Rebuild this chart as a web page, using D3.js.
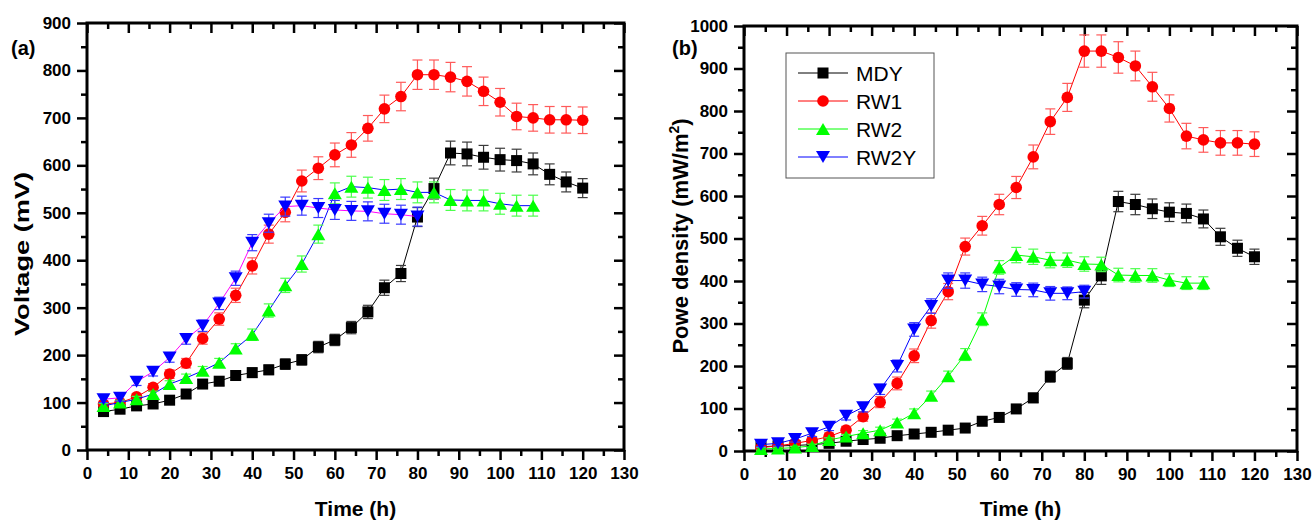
<!DOCTYPE html>
<html>
<head>
<meta charset="utf-8">
<script src="https://cdn.jsdelivr.net/npm/d3@7"></script>
<style>
	body { margin: 0; background: #ffffff; }
	svg text { font-family: "Liberation Sans", Arial, sans-serif; fill: #000; }
</style>
</head>
<body>
<div id="chartDiv"></div>
<script>

// time points (h)
var times = [4, 8, 12, 16, 20, 24, 28, 32, 36, 40, 44, 48, 52, 56, 60, 64, 68, 72, 76, 80, 84, 88, 92, 96, 100, 104, 108, 112, 116, 120];
var timesRW2 = [4, 8, 12, 16, 20, 24, 28, 32, 36, 40, 44, 48, 52, 56, 60, 64, 68, 72, 76, 80, 84, 88, 92, 96, 100, 104, 108];
var timesRW2Y = [4, 8, 12, 16, 20, 24, 28, 32, 36, 40, 44, 48, 52, 56, 60, 64, 68, 72, 76, 80];

var seriesNames = ["MDY", "RW1", "RW2", "RW2Y"];

// (a) voltage, mV
var voltMDY = [81, 86, 93, 97, 105, 118, 139, 145, 157, 163, 169, 181, 190, 217, 232, 258, 291, 342, 372, 491, 551, 626, 624, 617, 612, 610, 603, 581, 565, 552];
var voltRW1 = [97, 100, 112, 132, 160, 183, 235, 276, 326, 388, 455, 501, 567, 594, 622, 643, 678, 719, 745, 791, 791, 786, 777, 756, 733, 703, 700, 696, 696, 695];
var voltRW2 = [93, 100, 107, 118, 139, 152, 167, 184, 214, 243, 294, 347, 392, 455, 541, 555, 553, 548, 550, 543, 543, 527, 526, 526, 519, 515, 515];
var voltRW2Y = [107, 110, 144, 165, 195, 234, 262, 309, 362, 437, 478, 513, 515, 510, 506, 504, 503, 498, 496, 492];

var voltErrMDY = [5, 5, 6, 6, 7, 8, 9, 9, 10, 10, 10, 11, 11, 12, 12, 13, 14, 16, 17, 20, 22, 25, 25, 25, 24, 24, 23, 22, 21, 20];
var voltErrRW1 = [6, 6, 7, 8, 9, 10, 12, 13, 15, 17, 19, 20, 23, 24, 25, 26, 27, 29, 30, 31, 31, 31, 31, 30, 29, 28, 28, 28, 28, 28];
var voltErrRW2 = [5, 5, 6, 6, 7, 8, 9, 9, 10, 12, 14, 15, 17, 19, 22, 22, 22, 22, 22, 22, 22, 22, 22, 22, 22, 22, 22];
var voltErrRW2Y = [7, 7, 8, 9, 10, 11, 12, 13, 15, 17, 19, 20, 20, 20, 20, 20, 20, 20, 20, 20];

// (b) power density, mW/m2
var powMDY = [10, 12, 13, 15, 18, 23, 27, 30, 36, 40, 44, 49, 54, 70, 79, 99, 125, 175, 206, 355, 412, 587, 580, 570, 562, 559, 546, 504, 477, 457];
var powRW1 = [8, 12, 18, 25, 34, 49, 81, 115, 159, 224, 307, 375, 481, 530, 580, 620, 692, 775, 832, 941, 941, 926, 906, 857, 806, 741, 732, 725, 725, 722];
var powRW2 = [5, 6, 8, 12, 26, 34, 42, 49, 67, 89, 130, 176, 227, 310, 432, 461, 457, 449, 449, 440, 439, 414, 413, 413, 402, 395, 395];
var powRW2Y = [15, 18, 28, 42, 57, 83, 103, 145, 200, 286, 341, 401, 401, 392, 387, 380, 379, 371, 371, 375];

var powErrMDY = [3, 3, 3, 3, 4, 4, 5, 5, 5, 6, 6, 6, 7, 8, 9, 10, 11, 13, 14, 18, 20, 24, 24, 23, 22, 22, 21, 20, 19, 18];
var powErrRW1 = [4, 5, 6, 7, 8, 9, 11, 13, 15, 16, 18, 19, 20, 22, 24, 26, 28, 30, 33, 38, 38, 37, 35, 34, 32, 30, 29, 29, 29, 29];
var powErrRW2 = [3, 3, 3, 4, 5, 5, 6, 7, 8, 10, 11, 12, 14, 15, 16, 18, 18, 18, 17, 17, 17, 16, 16, 16, 15, 15, 15];
var powErrRW2Y = [5, 6, 7, 8, 9, 10, 11, 12, 14, 16, 17, 18, 18, 17, 17, 16, 16, 16, 15, 15];

;(function() {

	var width = 1312;
	var height = 524;

	var markerFill = { MDY: "#000000", RW1: "#ff0000", RW2: "#00ff00", RW2Y: "#0000ff" };
	var errColor = { MDY: "#3a3a3a", RW1: "#ff5a5a", RW2: "#4cff4c", RW2Y: "#3a3aff" };
	var shapes = { MDY: "square", RW1: "circle", RW2: "up", RW2Y: "down" };

	var svg;

	init();

	function init() {
		svg = d3.select("#chartDiv").append("svg")
			.attr("width", width)
			.attr("height", height);

		drawPanel({
			left: 87, right: 624, top: 23, bottom: 450,
			yMax: 900,
			label: "(a)", labelX: 11,
			yTitle: "Voltage (mV)", yTitleX: 29, yTitleY: 254, yTitleLen: 164, yTitleSize: 21,
			lineColor: { MDY: "#000000", RW1: "#ff0000", RW2: "#0000ff", RW2Y: "#ff00ff" },
			series: [
				{ name: "MDY", x: times, y: voltMDY, e: voltErrMDY },
				{ name: "RW1", x: times, y: voltRW1, e: voltErrRW1 },
				{ name: "RW2", x: timesRW2, y: voltRW2, e: voltErrRW2 },
				{ name: "RW2Y", x: timesRW2Y, y: voltRW2Y, e: voltErrRW2Y }
			]
		});

		drawPanel({
			left: 744, right: 1297, top: 26, bottom: 451,
			yMax: 1000,
			label: "(b)", labelX: 672,
			yTitle: "Powe density (mW/m", yTitleX: 688, yTitleY: 236, yTitleSize: 22,
			superscript: true,
			legend: true,
			lineColor: { MDY: "#000000", RW1: "#ff0000", RW2: "#00ff00", RW2Y: "#0000ff" },
			series: [
				{ name: "MDY", x: times, y: powMDY, e: powErrMDY },
				{ name: "RW1", x: times, y: powRW1, e: powErrRW1 },
				{ name: "RW2", x: timesRW2, y: powRW2, e: powErrRW2 },
				{ name: "RW2Y", x: timesRW2Y, y: powRW2Y, e: powErrRW2Y }
			]
		});
	}

	function marker(sel, shape, fill) {
		var s = 11;
		var h = s / 2;
		if (shape == "square") {
			sel.append("rect").attr("x", -h).attr("y", -h).attr("width", s).attr("height", s).attr("fill", fill);
		} else if (shape == "circle") {
			sel.append("circle").attr("r", 5.8).attr("fill", fill);
		} else if (shape == "up") {
			sel.append("path").attr("d", "M0," + (-h - 0.5) + "L" + (h + 1.5) + "," + (h + 0.5) + "L" + (-h - 1.5) + "," + (h + 0.5) + "Z").attr("fill", fill);
		} else {
			sel.append("path").attr("d", "M0," + (h + 0.5) + "L" + (h + 1.5) + "," + (-h - 0.5) + "L" + (-h - 1.5) + "," + (-h - 0.5) + "Z").attr("fill", fill);
		}
	}

	function styleAxis(g, labels) {
		g.select(".domain").remove();
		g.selectAll("line").attr("stroke", "#000").attr("stroke-width", 2.5);
		if (labels) {
			g.selectAll("text")
				.style("font-size", "17px")
				.style("font-weight", "bold")
				.attr("fill", "#000");
		}
	}

	function drawPanel(p) {
		var g = svg.append("g");

		var xScale = d3.scaleLinear().domain([0, 130]).range([p.left, p.right]);
		var yScale = d3.scaleLinear().domain([0, p.yMax]).range([p.bottom, p.top]);

		var xMajor = d3.range(0, 131, 10);
		var xMinor = d3.range(5, 130, 10);
		var yMajor = d3.range(0, p.yMax + 1, 100);
		var yMinor = d3.range(50, p.yMax, 100);

		// bottom axis (outward ticks)
		g.append("g").attr("transform", "translate(0," + p.bottom + ")")
			.call(d3.axisBottom(xScale).tickValues(xMinor).tickSize(6).tickFormat(""))
			.call(styleAxis, false);
		g.append("g").attr("transform", "translate(0," + p.bottom + ")")
			.call(d3.axisBottom(xScale).tickValues(xMajor).tickSize(10).tickPadding(7).tickFormat(d3.format("d")))
			.call(styleAxis, true);

		// left axis (outward ticks)
		g.append("g").attr("transform", "translate(" + p.left + ",0)")
			.call(d3.axisLeft(yScale).tickValues(yMinor).tickSize(6).tickFormat(""))
			.call(styleAxis, false);
		g.append("g").attr("transform", "translate(" + p.left + ",0)")
			.call(d3.axisLeft(yScale).tickValues(yMajor).tickSize(10).tickPadding(6).tickFormat(d3.format("d")))
			.call(styleAxis, true);

		// top and right axes (inward ticks, no labels)
		g.append("g").attr("transform", "translate(0," + p.top + ")")
			.call(d3.axisTop(xScale).tickValues(xMinor).tickSize(-6).tickFormat(""))
			.call(styleAxis, false);
		g.append("g").attr("transform", "translate(0," + p.top + ")")
			.call(d3.axisTop(xScale).tickValues(xMajor).tickSize(-10).tickFormat(""))
			.call(styleAxis, false);
		g.append("g").attr("transform", "translate(" + p.right + ",0)")
			.call(d3.axisRight(yScale).tickValues(yMinor).tickSize(-6).tickFormat(""))
			.call(styleAxis, false);
		g.append("g").attr("transform", "translate(" + p.right + ",0)")
			.call(d3.axisRight(yScale).tickValues(yMajor).tickSize(-10).tickFormat(""))
			.call(styleAxis, false);

		// frame
		g.append("rect")
			.attr("x", p.left)
			.attr("y", p.top)
			.attr("width", p.right - p.left)
			.attr("height", p.bottom - p.top)
			.attr("fill", "none")
			.attr("stroke", "#000")
			.attr("stroke-width", 3);

		// series: line, error bars, symbols
		p.series.forEach(function(s) {
			var pts = s.x.map(function(t, i) { return { t: t, v: s.y[i], e: s.e[i] }; });

			var line = d3.line()
				.x(function(d) { return xScale(d.t); })
				.y(function(d) { return yScale(d.v); });

			g.append("path")
				.datum(pts)
				.attr("d", line)
				.attr("fill", "none")
				.attr("stroke", p.lineColor[s.name])
				.attr("stroke-width", 1);

			var eb = g.append("g")
				.attr("stroke", errColor[s.name])
				.attr("stroke-width", 1.2)
				.selectAll("g")
				.data(pts)
				.enter().append("g");

			eb.append("line")
				.attr("x1", function(d) { return xScale(d.t); })
				.attr("x2", function(d) { return xScale(d.t); })
				.attr("y1", function(d) { return yScale(d.v - d.e); })
				.attr("y2", function(d) { return yScale(d.v + d.e); });
			eb.append("line")
				.attr("x1", function(d) { return xScale(d.t) - 5; })
				.attr("x2", function(d) { return xScale(d.t) + 5; })
				.attr("y1", function(d) { return yScale(d.v + d.e); })
				.attr("y2", function(d) { return yScale(d.v + d.e); });
			eb.append("line")
				.attr("x1", function(d) { return xScale(d.t) - 5; })
				.attr("x2", function(d) { return xScale(d.t) + 5; })
				.attr("y1", function(d) { return yScale(d.v - d.e); })
				.attr("y2", function(d) { return yScale(d.v - d.e); });

			g.selectAll(".pt-" + s.name)
				.data(pts)
				.enter().append("g")
				.attr("class", "pt-" + s.name)
				.attr("transform", function(d) { return "translate(" + xScale(d.t) + "," + yScale(d.v) + ")"; })
				.each(function() { marker(d3.select(this), shapes[s.name], markerFill[s.name]); });
		});

		// panel label
		g.append("text")
			.attr("x", p.labelX)
			.attr("y", 55)
			.style("font-size", "20px")
			.style("font-weight", "bold")
			.text(p.label);

		// x title
		g.append("text")
			.attr("text-anchor", "middle")
			.attr("x", (p.left + p.right) / 2)
			.attr("y", 516)
			.style("font-size", "21px")
			.style("font-weight", "bold")
			.text("Time (h)");

		// y title
		var yt = g.append("text")
			.attr("text-anchor", "middle")
			.attr("transform", "translate(" + p.yTitleX + "," + p.yTitleY + ") rotate(-90)")
			.style("font-size", p.yTitleSize + "px")
			.style("font-weight", "bold");
		if (p.yTitleLen) {
			yt.attr("textLength", p.yTitleLen).attr("lengthAdjust", "spacingAndGlyphs");
		}
		yt.append("tspan").text(p.yTitle);
		if (p.superscript) {
			yt.append("tspan").attr("dy", -9).style("font-size", "14px").text("2");
			yt.append("tspan").attr("dy", 9).text(")");
		}

		if (p.legend) {
			drawLegend(g, p);
		}
	}

	function drawLegend(g, p) {
		var lx = 786, ly = 53;
		g.append("rect")
			.attr("x", lx)
			.attr("y", ly)
			.attr("width", 148)
			.attr("height", 125)
			.attr("fill", "#fff")
			.attr("stroke", "#555")
			.attr("stroke-width", 1);

		var rowY = d3.scalePoint().domain(seriesNames).range([73, 157]);

		seriesNames.forEach(function(name) {
			var y = rowY(name);
			g.append("line")
				.attr("x1", 798).attr("x2", 848)
				.attr("y1", y).attr("y2", y)
				.attr("stroke", p.lineColor[name])
				.attr("stroke-width", 1);
			var m = g.append("g").attr("transform", "translate(823," + y + ")");
			marker(m, shapes[name], markerFill[name]);
			g.append("text")
				.attr("x", 856)
				.attr("y", y + 8)
				.style("font-size", "21px")
				.text(name);
		});
	}

})();
</script>
</body>
</html>
